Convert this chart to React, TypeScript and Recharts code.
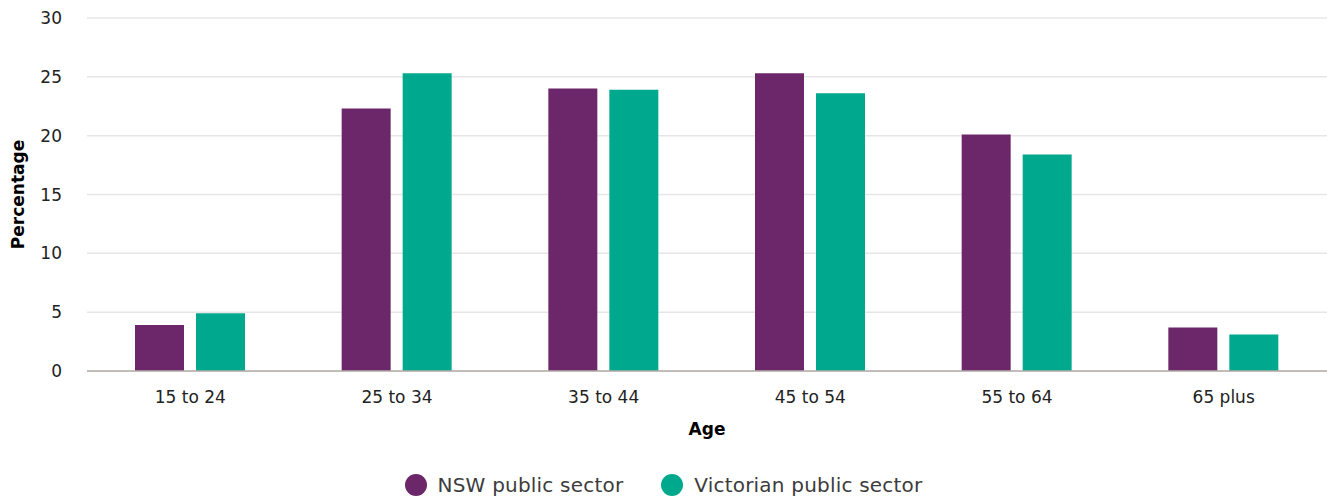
import { BarChart, Bar, XAxis, YAxis, CartesianGrid, Legend } from 'recharts';

const ageGroups = ['15 to 24', '25 to 34', '35 to 44', '45 to 54', '55 to 64', '65 plus'];
const nswValues = [3.9, 22.3, 24.0, 25.3, 20.1, 3.7];
const vicValues = [4.9, 25.3, 23.9, 23.6, 18.4, 3.1];
const yTicks = [0, 5, 10, 15, 20, 25, 30];

const NSW_COLOR = '#6b2769';
const VIC_COLOR = '#00a88e';
const FONT = '"DejaVu Sans", sans-serif';

const data = ageGroups.map((age, i) => ({
  age,
  nsw: nswValues[i],
  vic: vicValues[i],
}));

function LegendContent() {
  const items = [
    { label: 'NSW public sector', color: NSW_COLOR },
    { label: 'Victorian public sector', color: VIC_COLOR },
  ];
  return (
    <div style={{ display: 'flex', justifyContent: 'center', alignItems: 'center', height: 24, fontFamily: FONT }}>
      {items.map((it) => (
        <div key={it.label} style={{ display: 'flex', alignItems: 'center', margin: '0 19px' }}>
          <span style={{ width: 22, height: 22, borderRadius: '50%', background: it.color, display: 'inline-block', marginRight: 11 }} />
          <span style={{ fontSize: 20, letterSpacing: 0.2, color: '#3c3c3c', lineHeight: '24px' }}>{it.label}</span>
        </div>
      ))}
    </div>
  );
}

// rotated y-axis title, centred on the plot height
function YTitle({ viewBox }: any) {
  const cy = viewBox.y + viewBox.height / 2;
  return (
    <text
      x={17.5}
      y={cy}
      transform={`rotate(-90, 17.5, ${cy})`}
      textAnchor="middle"
      dominantBaseline="central"
      fill="#000"
      fontSize={17}
      fontWeight={700}
      fontFamily={FONT}
    >
      Percentage
    </text>
  );
}

export default function App() {
  return (
    <div style={{ position: 'absolute', left: 0, top: 0, background: '#fff' }}>
      <BarChart
        width={1327}
        height={497}
        data={data}
        margin={{ top: 18, right: 0, bottom: 0, left: 0 }}
        barSize={49}
        barGap={12}
      >
        <CartesianGrid vertical={false} stroke="#e6e6e6" strokeWidth={1.5} />
        <XAxis
          dataKey="age"
          height={102}
          axisLine={{ stroke: '#b5aea8', strokeWidth: 1.5 }}
          tickLine={false}
          tickMargin={14}
          tick={{ fill: '#222', fontSize: 17, fontFamily: FONT }}
          label={{ value: 'Age', position: 'insideTop', offset: 52, fill: '#000', fontSize: 17, fontWeight: 700, fontFamily: FONT }}
        />
        <YAxis
          width={87}
          domain={[0, 30]}
          ticks={yTicks}
          axisLine={false}
          tickLine={false}
          tickMargin={19}
          tick={{ fill: '#222', fontSize: 17, fontFamily: FONT }}
          label={<YTitle />}
        />
        <Legend verticalAlign="bottom" content={<LegendContent />} />
        <Bar dataKey="nsw" name="NSW public sector" fill={NSW_COLOR} isAnimationActive={false} />
        <Bar dataKey="vic" name="Victorian public sector" fill={VIC_COLOR} isAnimationActive={false} />
      </BarChart>
    </div>
  );
}
